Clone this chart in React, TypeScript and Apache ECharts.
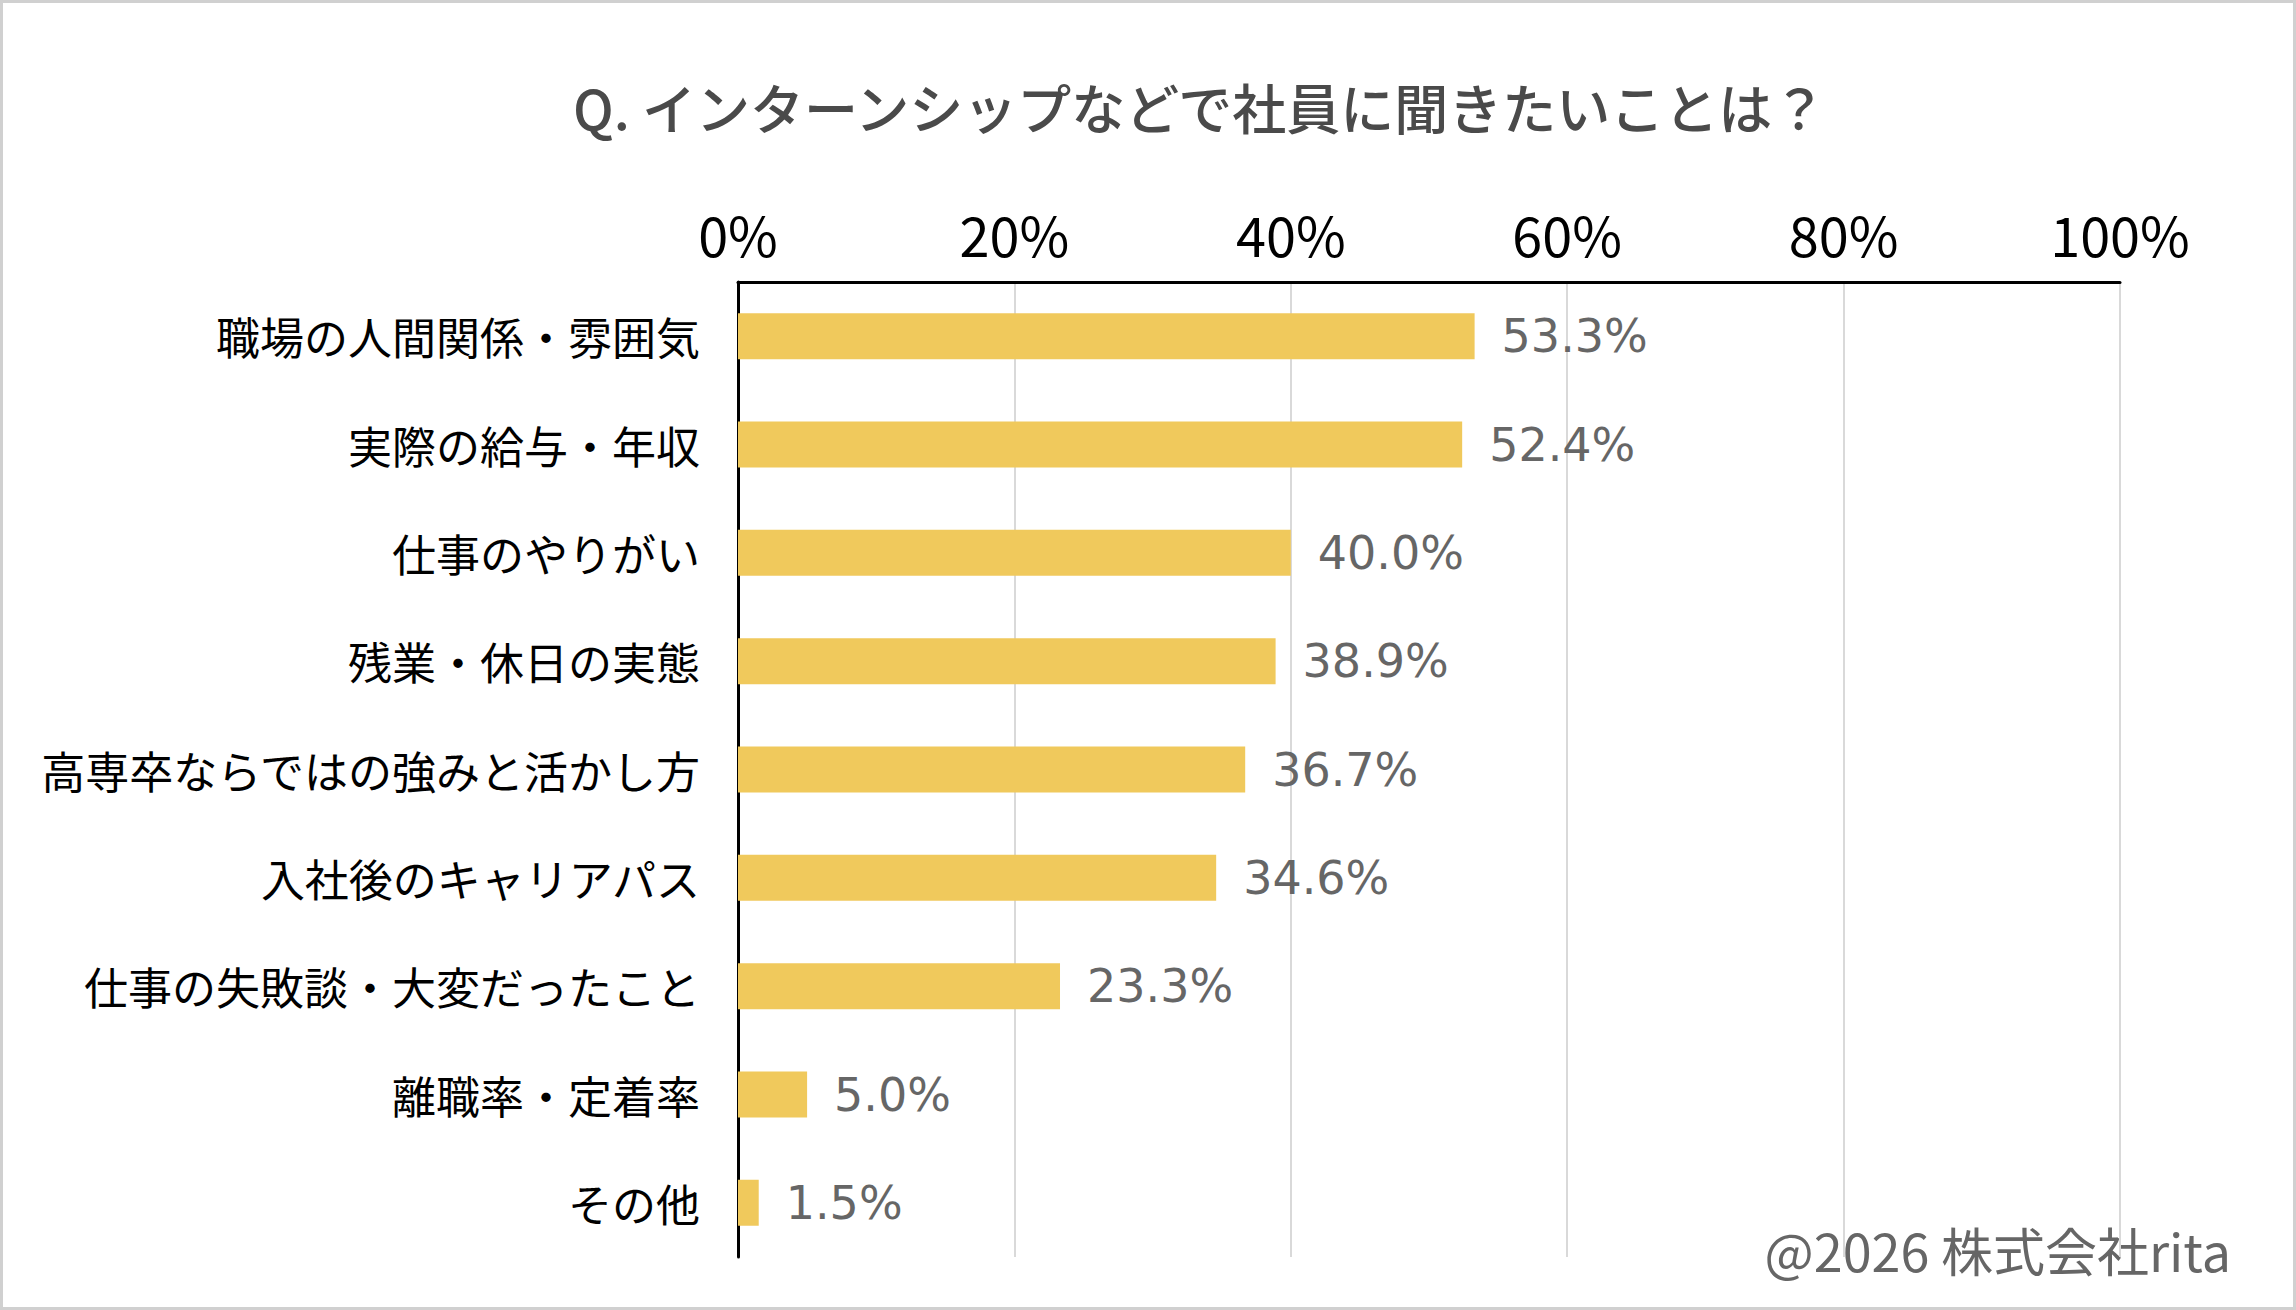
import React, { useEffect, useRef } from "react";
import * as echarts from "echarts";

const titleText = "Q. インターンシップなどで社員に聞きたいことは？";
const categories = [
  "職場の人間関係・雰囲気",
  "実際の給与・年収",
  "仕事のやりがい",
  "残業・休日の実態",
  "高専卒ならではの強みと活かし方",
  "入社後のキャリアパス",
  "仕事の失敗談・大変だったこと",
  "離職率・定着率",
  "その他",
];
const values = [53.3, 52.4, 40.0, 38.9, 36.7, 34.6, 23.3, 5.0, 1.5];
const tickMin = 0;
const tickMax = 100;
const tickStep = 20;
const footnote = "@2026 株式会社rita";

const FONT = "'Noto Sans CJK JP', 'Noto Sans', sans-serif";
const NUMFONT = "'DejaVu Sans', 'Noto Sans', sans-serif";

export default function App() {
  const ref = useRef<HTMLDivElement>(null);
  useEffect(() => {
    if (!ref.current) return;
    const chart = echarts.init(ref.current, null, { renderer: "svg" });
    chart.setOption({
      animation: false,
      backgroundColor: "#ffffff",
      textStyle: { fontFamily: FONT },
      title: {
        text: titleText,
        left: 568,
        top: 74,
        textStyle: {
          fontFamily: FONT,
          fontSize: 54,
          fontWeight: 500,
          color: "#4a4a4a",
        },
      },
      grid: { left: 738, top: 282, width: 1382, height: 975, containLabel: false },
      xAxis: {
        type: "value",
        position: "top",
        min: tickMin,
        max: tickMax,
        interval: tickStep,
        axisLine: { show: true, lineStyle: { color: "#000", width: 3 } },
        axisTick: { show: false },
        axisLabel: {
          formatter: "{value}%",
          fontFamily: FONT,
          fontSize: 54,
          color: "#000",
          margin: 22,
        },
        splitLine: { show: true, lineStyle: { color: "#d9d9d9", width: 2 } },
      },
      yAxis: {
        type: "category",
        inverse: true,
        data: categories,
        axisLine: { show: true, lineStyle: { color: "#000", width: 3 } },
        axisTick: { show: false },
        axisLabel: {
          fontFamily: FONT,
          fontSize: 44,
          color: "#000",
          margin: 38,
        },
        splitLine: { show: false },
      },
      series: [
        {
          type: "bar",
          data: values,
          barWidth: 46,
          itemStyle: { color: "#F0C95C" },
          label: {
            show: true,
            position: "right",
            distance: 27,
            formatter: (p: any) => `${Number(p.value).toFixed(1)}%`,
            fontFamily: NUMFONT,
            fontSize: 46,
            color: "#666666",
          },
        },
      ],
      graphic: [
        {
          type: "rect",
          z: -10,
          shape: { x: 1.5, y: 1.5, width: 2293, height: 1307 },
          style: { fill: "none", stroke: "#d0d0d0", lineWidth: 3 },
        },
        {
          type: "text",
          x: 2231,
          y: 1249,
          style: {
            text: footnote,
            fontFamily: FONT,
            fontSize: 52,
            fill: "#666666",
            textAlign: "right",
            textVerticalAlign: "middle",
          },
        },
      ],
    });
    return () => chart.dispose();
  }, []);
  return (
    <div
      ref={ref}
      style={{ position: "fixed", left: 0, top: 0, width: 2296, height: 1310 }}
    />
  );
}
